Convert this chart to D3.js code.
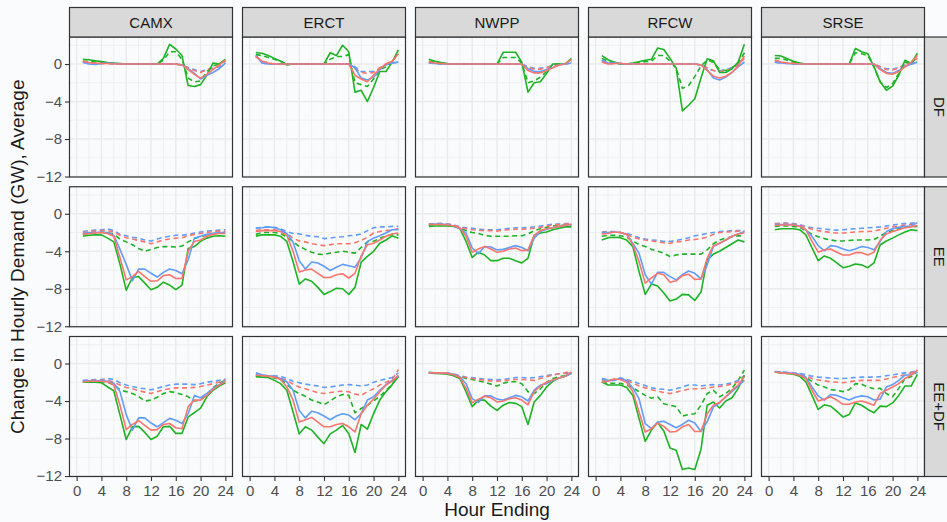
<!DOCTYPE html>
<html><head><meta charset="utf-8">
<script src="https://cdn.jsdelivr.net/npm/d3@7"></script>
<style>
html,body{margin:0;padding:0;background:#fafbfd;}
svg{display:block;font-family:"Liberation Sans",Arial,Helvetica,sans-serif;}
</style></head><body>
<svg id="chart" width="947" height="522"></svg>
<script>
// ---------------- DATA ----------------
const regions = ["CAMX", "ERCT", "NWPP", "RFCW", "SRSE"];
const scenarios = ["DF", "EE", "EE+DF"];
const hours = [1,2,3,4,5,6,7,8,9,10,11,12,13,14,15,16,17,18,19,20,21,22,23,24];
const xTicks = [0, 4, 8, 12, 16, 20, 24];
const yTicks = [0, -4, -8, -12];
// series order in every panel array: red solid, red dashed, green solid, green dashed, blue solid, blue dashed
const seriesKeys = ["redSolid", "redDashed", "greenSolid", "greenDashed", "blueSolid", "blueDashed"];

const CAMX_DF = [
  [0.3,0.15,0.1,0.05,0.05,0,0,0,0,0,0,0,0,0,0,0,-0.1,-0.6,-1.1,-1.5,-1.1,-0.6,-0.1,0.4],
  [0.3,0.15,0.1,0.05,0.05,0,0,0,0,0,0,0,0,0,0,0,-0.1,-0.4,-0.7,-0.9,-0.6,-0.4,-0.2,0.3],
  [0.5,0.45,0.35,0.25,0.15,0.1,0.05,0,0,0,0,0,0,0.6,2.1,1.6,0.9,-2.3,-2.4,-2.2,-1.2,0.1,0,0.5],
  [0.3,0.3,0.2,0.15,0.1,0.05,0,0,0,0,0,0,0,0.4,1.3,1.3,0.5,-1.5,-1.9,-1.8,-0.8,-0.2,0,0.4],
  [0.2,0,-0.05,0.05,0.1,0.05,0,0,0,0,0,0,0,0,0,0,-0.1,-0.5,-1.0,-1.6,-1.2,-0.9,-0.5,0.1],
  [0.2,0,0,0.05,0.1,0.05,0,0,0,0,0,0,0,0,0,0,-0.2,-0.4,-0.6,-0.8,-0.6,-0.5,-0.3,0.1]
];
const ERCT_DF = [
  [0.8,0.3,0.1,0,0,0,0,0,0,0,0,0,0,0,0,0,-1.2,-1.6,-1.9,-1.2,-0.5,0,0.3,1.1],
  [0.8,0.3,0.1,0,0,0,0,0,0,0,0,0,0,0,0,0,-0.5,-0.9,-1.0,-0.9,-0.4,0,0.3,1.0],
  [1.2,1.15,0.9,0.6,0.3,-0.1,0,0,0,0,0,0,1.2,0.9,2.0,1.3,-3.0,-2.8,-4.0,-2.5,-0.8,-0.8,0.2,1.5],
  [1.0,0.9,0.7,0.5,0.3,0,0,0,0,0,0,0,0.5,0.8,0.8,1.0,-2.0,-2.2,-2.4,-1.6,-0.6,-0.3,0.2,1.3],
  [0.9,0.1,0,0,0,0,0,0,0,0,0,0,0,0,0,0,-0.4,-1.5,-1.7,-1.4,-0.6,0,0.1,0.2],
  [0.9,0.1,0,0,0,0,0,0,0,0,0,0,0,0,0,0,-0.3,-0.8,-0.8,-0.8,-0.5,-0.1,0.1,0.2]
];
const NWPP_DF = [
  [0.2,0.1,0.05,0,0,0,0,0,0,0,0,0,0,0,0,0,-0.7,-0.95,-0.95,-0.7,-0.4,-0.1,0,0.5],
  [0.2,0.1,0.05,0,0,0,0,0,0,0,0,0,0,0,0,0,-0.4,-0.55,-0.55,-0.4,-0.2,0,0,0.3],
  [0.5,0.3,0.15,0.05,0,0,0,0,0,0,0,0,1.25,1.25,1.25,0.2,-3.0,-2.0,-1.9,-1.0,0,0,0,0.6],
  [0.3,0.2,0.1,0,0,0,0,0,0,0,0,0,0.7,0.7,0.7,0.1,-2.0,-1.8,-1.4,-0.8,0,0,0,0.4],
  [0.1,0.05,0,0,0,0,0,0,0,0,0,0,0,0,0,0,-0.5,-0.8,-0.8,-0.6,-0.4,-0.1,0,0.1],
  [0.1,0.05,0,0,0,0,0,0,0,0,0,0,0,0,0,0,-0.3,-0.45,-0.45,-0.35,-0.2,-0.05,0,0.05]
];
const RFCW_DF = [
  [0.25,0,0.05,0.05,0,0,0,0,0,0,0,0,0,0,0,0,-0.1,-0.7,-1.3,-1.5,-1.3,-0.9,-0.2,0.85],
  [0.25,0,0.05,0.05,0,0,0,0,0,0,0,0,0,0,0,0,-0.1,-0.4,-0.7,-0.8,-0.7,-0.5,0,0.6],
  [0.9,0.45,0.2,0,0,0.1,0.25,0.4,0.5,1.7,1.55,0.6,-0.45,-5.0,-4.4,-3.7,-1.5,0.55,0.35,-0.9,-0.9,-0.5,0.2,2.1],
  [0.6,0.3,0.15,0,0,0.05,0.15,0.25,0.3,0.9,0.9,0.3,-0.45,-2.6,-2.3,-1.35,-0.2,0.4,0.2,-0.6,-0.7,-0.4,0.1,1.2],
  [0.4,0.1,0.1,0.05,0,0,0,0,0,0,0,0,0,0,0,0,-0.1,-0.6,-1.5,-1.7,-1.4,-0.9,-0.3,0.2],
  [0.4,0.1,0.1,0.05,0,0,0,0,0,0,0,0,0,0,0,0,-0.1,-0.5,-0.7,-0.75,-0.6,-0.4,-0.1,0.2]
];
const SRSE_DF = [
  [0.4,0.2,0.1,0.05,0,0,0,0,0,0,0,0,0,0,0,0,0,-0.6,-1.0,-1.1,-0.8,-0.3,0.2,0.9],
  [0.4,0.2,0.1,0.05,0,0,0,0,0,0,0,0,0,0,0,0,0,-0.3,-0.6,-0.65,-0.4,-0.1,0.1,0.6],
  [0.9,0.85,0.55,0.3,0.1,0,0,0,0,0,0,0,0,1.65,1.3,1.1,-0.3,-1.9,-2.8,-2.35,-1.2,0.4,0.05,1.15],
  [0.6,0.6,0.4,0.2,0.05,0,0,0,0,0,0,0,0,1.2,1.1,0.9,-0.3,-1.9,-2.5,-2.1,-1.0,0.2,0,0.8],
  [0.2,0.1,0.05,0,0,0,0,0,0,0,0,0,0,0,0,0,0,-0.5,-0.9,-1.0,-0.7,-0.3,0,0.2],
  [0.2,0.1,0.05,0,0,0,0,0,0,0,0,0,0,0,0,0,0,-0.3,-0.5,-0.55,-0.35,-0.1,0,0.15]
];

const CAMX_EE = [
  [-2.2,-2.1,-2.05,-2.0,-2.1,-2.4,-4.7,-7.05,-6.7,-6.15,-6.7,-7.2,-7.15,-6.6,-6.5,-6.9,-6.9,-4.0,-2.95,-2.8,-2.4,-2.2,-2.1,-2.1],
  [-2.0,-1.9,-1.85,-1.8,-1.8,-1.95,-2.3,-2.55,-2.7,-2.85,-3.0,-3.2,-3.0,-2.8,-2.7,-2.6,-2.55,-2.35,-2.2,-2.1,-2.0,-1.9,-1.85,-1.85],
  [-2.4,-2.3,-2.25,-2.25,-2.6,-3.0,-5.4,-8.15,-6.8,-6.7,-7.4,-8.1,-7.85,-7.3,-7.6,-8.1,-7.6,-3.7,-3.5,-2.95,-2.6,-2.4,-2.35,-2.4],
  [-2.2,-2.1,-2.05,-2.0,-2.0,-2.2,-2.7,-3.0,-3.3,-3.7,-4.0,-3.8,-3.6,-3.5,-3.5,-3.55,-3.45,-3.0,-2.65,-2.45,-2.25,-2.1,-2.05,-2.0],
  [-2.1,-2.0,-2.0,-1.95,-2.0,-2.3,-3.8,-5.4,-7.15,-5.9,-5.9,-6.35,-6.75,-6.25,-5.9,-6.05,-6.4,-4.9,-2.6,-2.4,-2.2,-2.1,-2.0,-2.0],
  [-1.9,-1.8,-1.75,-1.7,-1.6,-1.8,-2.2,-2.35,-2.5,-2.6,-2.8,-2.9,-2.7,-2.5,-2.4,-2.3,-2.3,-2.2,-2.05,-1.95,-1.85,-1.8,-1.75,-1.7]
];
const ERCT_EE = [
  [-1.9,-1.8,-1.8,-1.8,-1.9,-2.3,-4.0,-6.2,-6.0,-5.9,-6.35,-6.8,-6.8,-6.5,-6.4,-6.85,-6.35,-4.5,-3.3,-3.15,-2.8,-2.4,-2.15,-2.05],
  [-1.8,-1.7,-1.7,-1.7,-1.8,-2.1,-2.6,-2.9,-3.0,-3.2,-3.3,-3.4,-3.3,-3.2,-3.2,-3.2,-3.1,-2.85,-2.5,-2.05,-1.9,-1.8,-1.7,-1.6],
  [-2.4,-2.25,-2.25,-2.25,-2.4,-2.95,-5.1,-7.5,-6.95,-7.2,-7.85,-8.6,-8.3,-7.95,-8.0,-8.6,-7.85,-5.15,-4.55,-4.0,-3.15,-2.8,-2.35,-2.6],
  [-2.2,-2.0,-2.0,-2.0,-2.1,-2.5,-2.95,-3.5,-3.8,-4.1,-4.3,-4.35,-4.2,-4.1,-4.0,-4.1,-4.2,-3.6,-3.0,-2.95,-2.6,-2.4,-2.2,-2.25],
  [-1.55,-1.5,-1.4,-1.5,-1.7,-2.1,-3.0,-5.0,-5.9,-5.15,-5.25,-5.6,-6.05,-5.7,-5.4,-5.55,-5.7,-4.7,-2.95,-2.6,-2.35,-2.05,-1.7,-1.7],
  [-1.55,-1.45,-1.4,-1.45,-1.6,-1.9,-2.1,-2.15,-2.3,-2.4,-2.45,-2.65,-2.6,-2.5,-2.45,-2.35,-2.3,-2.15,-1.8,-1.5,-1.4,-1.4,-1.35,-1.35]
];
const NWPP_EE = [
  [-1.15,-1.15,-1.15,-1.2,-1.3,-1.5,-2.4,-4.1,-3.75,-3.5,-3.75,-4.1,-4.0,-3.75,-3.65,-3.95,-3.85,-2.3,-1.8,-1.6,-1.5,-1.35,-1.25,-1.1],
  [-1.1,-1.05,-1.05,-1.1,-1.2,-1.45,-1.6,-1.7,-1.75,-1.8,-1.8,-1.85,-1.75,-1.7,-1.65,-1.65,-1.6,-1.55,-1.45,-1.3,-1.2,-1.15,-1.1,-1.05],
  [-1.35,-1.3,-1.3,-1.3,-1.35,-1.55,-2.95,-4.65,-4.1,-4.4,-5.0,-5.0,-4.75,-4.75,-5.0,-5.25,-4.75,-2.3,-2.05,-1.95,-1.7,-1.55,-1.4,-1.4],
  [-1.2,-1.15,-1.15,-1.2,-1.3,-1.5,-1.8,-2.0,-2.1,-2.3,-2.4,-2.4,-2.4,-2.4,-2.35,-2.35,-2.15,-1.8,-1.6,-1.45,-1.3,-1.25,-1.2,-1.2],
  [-1.15,-1.1,-1.1,-1.15,-1.3,-1.6,-2.05,-3.65,-4.25,-3.5,-3.55,-3.85,-3.8,-3.6,-3.4,-3.6,-3.95,-2.6,-1.9,-1.65,-1.5,-1.35,-1.25,-1.15],
  [-1.1,-1.05,-1.05,-1.1,-1.2,-1.4,-1.5,-1.55,-1.65,-1.7,-1.7,-1.7,-1.65,-1.55,-1.5,-1.5,-1.45,-1.4,-1.3,-1.2,-1.1,-1.1,-1.05,-1.05]
];
const RFCW_EE = [
  [-2.15,-2.1,-1.95,-2.0,-2.2,-3.3,-5.1,-7.4,-6.85,-6.35,-6.5,-7.3,-7.15,-6.6,-6.45,-7.0,-6.95,-4.75,-3.4,-3.15,-2.8,-2.4,-2.15,-2.05],
  [-2.0,-1.95,-1.95,-2.0,-2.2,-2.5,-2.7,-2.8,-2.9,-3.0,-3.1,-3.15,-3.0,-2.95,-2.8,-2.75,-2.65,-2.5,-2.2,-2.0,-1.95,-1.9,-1.85,-1.85],
  [-2.8,-2.55,-2.5,-2.55,-2.8,-3.5,-6.15,-8.6,-7.5,-7.7,-8.45,-9.3,-9.1,-8.6,-8.65,-9.25,-8.35,-4.9,-4.3,-4.0,-3.6,-3.2,-2.8,-3.0],
  [-2.4,-2.3,-2.3,-2.35,-2.5,-2.9,-3.3,-3.5,-3.8,-4.0,-4.2,-4.55,-4.4,-4.3,-4.3,-4.3,-4.3,-3.85,-3.2,-2.8,-2.6,-2.45,-2.35,-2.4],
  [-2.05,-2.0,-1.95,-2.0,-2.2,-3.15,-4.2,-6.5,-7.5,-6.25,-6.25,-6.7,-7.05,-6.5,-6.1,-6.35,-6.95,-5.45,-3.5,-3.15,-2.8,-2.4,-2.15,-1.9],
  [-1.95,-1.9,-1.9,-2.0,-2.1,-2.3,-2.55,-2.7,-2.8,-2.85,-2.95,-2.95,-2.85,-2.7,-2.55,-2.35,-2.25,-2.1,-2.0,-1.9,-1.85,-1.8,-1.8,-1.8]
];
const SRSE_EE = [
  [-1.25,-1.2,-1.2,-1.2,-1.35,-1.7,-2.95,-4.1,-3.85,-3.75,-4.1,-4.4,-4.4,-4.15,-4.15,-4.4,-4.1,-2.8,-2.15,-1.9,-1.7,-1.5,-1.4,-1.25],
  [-1.1,-1.05,-1.05,-1.1,-1.2,-1.45,-1.65,-1.8,-1.9,-2.0,-2.05,-2.05,-2.0,-1.95,-1.9,-1.9,-1.85,-1.7,-1.55,-1.4,-1.3,-1.2,-1.15,-1.1],
  [-1.7,-1.6,-1.6,-1.6,-1.7,-2.25,-3.65,-5.0,-4.5,-4.75,-5.25,-5.75,-5.6,-5.35,-5.45,-5.75,-5.25,-3.3,-2.9,-2.6,-2.25,-1.95,-1.7,-1.8],
  [-1.35,-1.3,-1.3,-1.35,-1.45,-1.8,-2.2,-2.45,-2.65,-2.8,-2.9,-2.9,-2.85,-2.8,-2.8,-2.8,-2.75,-2.4,-2.0,-1.8,-1.6,-1.45,-1.4,-1.35],
  [-1.2,-1.15,-1.15,-1.15,-1.3,-1.7,-2.4,-3.4,-3.95,-3.4,-3.5,-3.75,-3.95,-3.75,-3.5,-3.6,-3.85,-2.95,-1.9,-1.6,-1.45,-1.35,-1.3,-0.95],
  [-1.05,-1.0,-1.0,-1.05,-1.15,-1.35,-1.5,-1.55,-1.65,-1.7,-1.75,-1.7,-1.65,-1.6,-1.55,-1.5,-1.45,-1.4,-1.3,-1.2,-1.1,-1.05,-1.0,-0.95]
];

const CAMX_EEDF = [
  [-1.95,-1.9,-1.9,-1.9,-1.95,-2.3,-4.45,-7.05,-6.5,-6.1,-6.6,-7.1,-7.05,-6.5,-6.4,-6.85,-6.95,-4.6,-3.9,-3.9,-3.4,-2.75,-2.3,-1.9],
  [-1.85,-1.8,-1.8,-1.8,-1.8,-2.0,-2.3,-2.55,-2.7,-2.9,-3.05,-3.2,-3.0,-2.8,-2.7,-2.6,-2.6,-2.6,-2.55,-2.45,-2.3,-2.15,-2.0,-1.7],
  [-1.95,-2.0,-2.0,-2.05,-2.5,-2.9,-5.5,-8.1,-6.75,-6.7,-7.35,-8.1,-7.75,-6.75,-6.7,-7.45,-7.45,-5.7,-5.25,-4.75,-3.55,-2.85,-2.4,-2.05],
  [-1.95,-1.95,-1.9,-1.95,-2.0,-2.3,-2.8,-3.0,-3.2,-3.5,-4.0,-3.9,-3.6,-3.2,-3.0,-3.1,-3.3,-3.55,-4.0,-3.9,-3.3,-2.6,-2.1,-1.8],
  [-1.85,-1.85,-1.85,-1.85,-1.9,-2.1,-3.0,-5.45,-7.1,-5.8,-5.8,-6.35,-6.75,-6.3,-5.85,-6.05,-6.4,-5.35,-3.4,-3.65,-3.2,-2.65,-2.25,-1.8],
  [-1.8,-1.75,-1.7,-1.7,-1.6,-1.7,-2.05,-2.3,-2.45,-2.6,-2.7,-2.8,-2.65,-2.45,-2.3,-2.2,-2.2,-2.2,-2.25,-2.15,-2.0,-1.9,-1.8,-1.65]
];
const ERCT_EEDF = [
  [-1.25,-1.3,-1.35,-1.45,-1.7,-2.5,-3.9,-6.25,-6.0,-5.75,-6.25,-6.75,-6.75,-6.5,-6.4,-6.75,-7.3,-5.35,-4.45,-3.8,-3.0,-2.3,-1.9,-1.25],
  [-1.3,-1.3,-1.35,-1.45,-1.55,-1.8,-2.2,-2.5,-2.7,-2.9,-3.1,-3.2,-3.1,-3.0,-2.95,-3.0,-3.25,-3.4,-3.0,-2.7,-2.3,-2.0,-1.7,-0.65],
  [-1.4,-1.45,-1.5,-1.8,-2.15,-2.85,-5.15,-7.5,-6.75,-7.1,-7.85,-8.55,-7.5,-7.1,-6.6,-7.5,-9.5,-6.5,-7.0,-5.35,-3.9,-3.0,-2.25,-1.4],
  [-1.35,-1.4,-1.45,-1.55,-1.7,-2.2,-2.85,-3.2,-3.5,-3.9,-4.1,-4.4,-4.0,-3.55,-3.3,-3.4,-5.25,-4.8,-4.45,-4.0,-3.5,-2.9,-2.2,-1.3],
  [-1.0,-1.2,-1.3,-1.35,-1.6,-1.95,-2.85,-5.0,-5.8,-5.1,-5.25,-5.6,-6.0,-5.6,-5.35,-5.5,-6.0,-5.35,-3.9,-3.55,-2.85,-2.25,-1.8,-1.35],
  [-1.2,-1.3,-1.3,-1.3,-1.35,-1.6,-1.9,-2.05,-2.2,-2.3,-2.4,-2.55,-2.5,-2.4,-2.3,-2.25,-2.3,-2.4,-2.3,-2.0,-1.8,-1.65,-1.5,-1.0]
];
const NWPP_EEDF = [
  [-1.0,-1.0,-1.0,-1.05,-1.2,-1.5,-2.65,-4.2,-3.8,-3.5,-3.65,-4.1,-4.0,-3.75,-3.65,-3.9,-4.4,-3.0,-2.4,-2.0,-1.75,-1.55,-1.35,-0.9],
  [-1.0,-1.0,-1.0,-1.05,-1.15,-1.35,-1.5,-1.6,-1.7,-1.8,-1.85,-1.9,-1.85,-1.75,-1.7,-1.7,-1.75,-1.8,-1.6,-1.4,-1.25,-1.1,-1.0,-0.8],
  [-1.0,-1.05,-1.1,-1.15,-1.3,-1.6,-3.0,-4.6,-3.9,-3.9,-4.55,-5.0,-4.45,-4.15,-4.25,-4.6,-6.5,-4.1,-3.4,-2.5,-1.9,-1.55,-1.35,-1.05],
  [-0.95,-1.0,-1.0,-1.05,-1.15,-1.4,-1.6,-1.7,-1.85,-2.0,-2.2,-2.4,-2.1,-1.95,-1.95,-2.15,-3.0,-3.2,-2.7,-2.0,-1.6,-1.4,-1.3,-1.0],
  [-1.0,-1.0,-1.0,-1.05,-1.15,-1.4,-2.15,-3.75,-4.15,-3.45,-3.45,-3.8,-3.9,-3.65,-3.4,-3.55,-4.0,-2.85,-2.3,-2.15,-1.8,-1.55,-1.35,-1.05],
  [-1.0,-1.0,-1.0,-1.05,-1.1,-1.3,-1.45,-1.5,-1.6,-1.65,-1.7,-1.75,-1.7,-1.6,-1.5,-1.5,-1.55,-1.5,-1.4,-1.3,-1.2,-1.1,-1.05,-1.0]
];
const RFCW_EEDF = [
  [-2.0,-1.9,-1.65,-1.7,-2.0,-3.0,-5.15,-7.3,-6.95,-6.35,-6.7,-7.3,-7.25,-6.75,-6.5,-7.25,-7.25,-5.35,-4.45,-4.15,-3.55,-2.85,-2.3,-1.4],
  [-1.8,-1.75,-1.7,-1.65,-1.8,-2.1,-2.4,-2.6,-2.8,-2.95,-3.1,-3.2,-3.05,-2.9,-2.75,-2.7,-2.7,-2.6,-2.5,-2.45,-2.35,-2.2,-1.95,-1.3],
  [-1.95,-2.3,-2.3,-2.3,-2.55,-3.4,-5.85,-8.3,-7.1,-6.3,-7.2,-9.0,-9.25,-11.3,-11.15,-11.3,-9.15,-4.45,-4.1,-4.75,-4.0,-3.65,-2.65,-1.25],
  [-2.0,-2.1,-2.1,-2.1,-2.3,-2.6,-3.0,-3.4,-3.7,-3.55,-4.3,-4.45,-4.6,-5.6,-5.45,-5.35,-4.45,-3.2,-2.85,-3.55,-3.2,-2.65,-1.8,-0.7],
  [-1.65,-1.8,-1.8,-1.55,-1.8,-2.6,-3.75,-6.4,-6.95,-6.25,-6.15,-6.5,-6.85,-6.5,-6.05,-6.35,-7.25,-6.2,-4.65,-4.2,-3.55,-3.0,-2.4,-1.8],
  [-1.6,-1.75,-1.7,-1.55,-1.7,-1.9,-2.15,-2.35,-2.6,-2.7,-2.75,-2.85,-2.7,-2.5,-2.3,-2.3,-2.4,-2.3,-2.25,-2.3,-2.2,-2.05,-1.8,-1.3]
];
const SRSE_EEDF = [
  [-0.9,-1.0,-1.05,-1.1,-1.25,-1.6,-2.85,-4.0,-3.8,-3.55,-3.9,-4.35,-4.35,-4.1,-4.0,-4.2,-4.45,-3.2,-2.85,-2.5,-2.15,-1.6,-1.25,-0.7],
  [-0.9,-0.95,-1.0,-1.05,-1.15,-1.35,-1.6,-1.75,-1.85,-1.95,-2.0,-2.05,-1.95,-1.85,-1.8,-1.8,-1.8,-1.8,-1.65,-1.5,-1.35,-1.2,-1.0,-0.7],
  [-0.9,-1.0,-1.05,-1.15,-1.35,-1.95,-3.4,-4.9,-4.4,-4.55,-5.1,-5.7,-5.45,-4.2,-4.45,-4.9,-5.25,-4.55,-4.6,-4.2,-3.4,-2.4,-2.4,-1.15],
  [-0.9,-0.95,-1.0,-1.1,-1.25,-1.5,-1.9,-2.3,-2.5,-2.8,-2.85,-3.0,-2.8,-2.15,-2.2,-2.5,-2.7,-2.65,-3.2,-3.55,-2.65,-1.6,-1.4,-0.9],
  [-0.9,-0.95,-1.0,-1.05,-1.15,-1.45,-2.5,-3.45,-3.9,-3.3,-3.4,-3.65,-3.9,-3.6,-3.45,-3.55,-3.9,-3.8,-2.5,-2.25,-1.8,-1.25,-1.2,-0.9],
  [-0.85,-0.9,-0.95,-1.0,-1.05,-1.2,-1.35,-1.45,-1.5,-1.55,-1.6,-1.6,-1.55,-1.5,-1.45,-1.45,-1.45,-1.4,-1.3,-1.2,-1.1,-1.0,-0.9,-0.8]
];

const panelData = {
  "DF":    [CAMX_DF, ERCT_DF, NWPP_DF, RFCW_DF, SRSE_DF],
  "EE":    [CAMX_EE, ERCT_EE, NWPP_EE, RFCW_EE, SRSE_EE],
  "EE+DF": [CAMX_EEDF, ERCT_EEDF, NWPP_EEDF, RFCW_EEDF, SRSE_EEDF]
};

// ---------------- STYLE / LAYOUT ----------------
const seriesStyle = {
  redSolid:    {color: "#F8766D", dash: null},
  redDashed:   {color: "#F8766D", dash: "5,3.5"},
  greenSolid:  {color: "#1DB324", dash: null},
  greenDashed: {color: "#1DB324", dash: "5,3.5"},
  blueSolid:   {color: "#619CFF", dash: null},
  blueDashed:  {color: "#619CFF", dash: "5,3.5"}
};
const drawOrder = [3, 5, 1, 2, 4, 0];

const panelW = 163, panelH = 140;
const colStep = 173, rowStep = 149.75;
const left0 = 69.5, top0 = 37;
const stripH = 29.5;

const svg = d3.select("#chart");
svg.append("rect").attr("width", 947).attr("height", 522).attr("fill", "#fafbfd");

const x = d3.scaleLinear().domain([-1.15, 25.15]).range([0, panelW]);
const y = d3.scaleLinear().domain([-12.05, 2.88]).range([panelH, 0]);
const xMinor = [2, 6, 10, 14, 18, 22];
const yMinor = [2, -2, -6, -10];

const line = d3.line().x((d, i) => x(hours[i])).y(d => y(d));

scenarios.forEach((sc, r) => {
  regions.forEach((rg, c) => {
    const g = svg.append("g")
      .attr("transform", `translate(${left0 + c * colStep},${top0 + r * rowStep})`);
    g.append("rect").attr("width", panelW).attr("height", panelH).attr("fill", "#fafbfd");
    g.selectAll(".vmin").data(xMinor).enter().append("line")
      .attr("x1", d => x(d)).attr("x2", d => x(d)).attr("y1", 0).attr("y2", panelH)
      .attr("stroke", "#ebebeb").attr("stroke-width", 0.7);
    g.selectAll(".hmin").data(yMinor).enter().append("line")
      .attr("y1", d => y(d)).attr("y2", d => y(d)).attr("x1", 0).attr("x2", panelW)
      .attr("stroke", "#ebebeb").attr("stroke-width", 0.7);
    g.selectAll(".vmaj").data(xTicks).enter().append("line")
      .attr("x1", d => x(d)).attr("x2", d => x(d)).attr("y1", 0).attr("y2", panelH)
      .attr("stroke", "#ebebeb").attr("stroke-width", 1.4);
    g.selectAll(".hmaj").data(yTicks).enter().append("line")
      .attr("y1", d => y(d)).attr("y2", d => y(d)).attr("x1", 0).attr("x2", panelW)
      .attr("stroke", "#ebebeb").attr("stroke-width", 1.4);

    const series = panelData[sc][c];
    drawOrder.forEach(k => {
      const st = seriesStyle[seriesKeys[k]];
      g.append("path").datum(series[k])
        .attr("d", line)
        .attr("fill", "none")
        .attr("stroke", st.color)
        .attr("stroke-width", 1.6)
        .attr("stroke-linejoin", "round")
        .attr("stroke-dasharray", st.dash);
    });

    g.append("rect").attr("width", panelW).attr("height", panelH)
      .attr("fill", "none").attr("stroke", "#333333").attr("stroke-width", 1.2);

    if (c === 0) {
      const ax = g.append("g").call(d3.axisLeft(y).tickValues(yTicks).tickSize(4.5).tickPadding(3));
      ax.select(".domain").remove();
      ax.selectAll("line").attr("stroke", "#333333").attr("stroke-width", 1.1);
      ax.selectAll("text").attr("fill", "#4d4d4d").attr("font-size", 15)
        .attr("font-family", "Liberation Sans, Arial, sans-serif");
    }
    if (r === scenarios.length - 1) {
      const ax = g.append("g").attr("transform", `translate(0,${panelH})`)
        .call(d3.axisBottom(x).tickValues(xTicks).tickSize(4.5).tickPadding(4.5));
      ax.select(".domain").remove();
      ax.selectAll("line").attr("stroke", "#333333").attr("stroke-width", 1.1);
      ax.selectAll("text").attr("fill", "#4d4d4d").attr("font-size", 15)
        .attr("font-family", "Liberation Sans, Arial, sans-serif");
    }
  });
});

regions.forEach((rg, c) => {
  const sx = left0 + c * colStep;
  svg.append("rect").attr("x", sx).attr("y", top0 - stripH).attr("width", panelW).attr("height", stripH)
    .attr("fill", "#d9d9d9").attr("stroke", "#333333").attr("stroke-width", 1.2);
  svg.append("text").attr("x", sx + panelW / 2).attr("y", top0 - stripH / 2)
    .attr("text-anchor", "middle").attr("dominant-baseline", "central")
    .attr("font-size", 15).attr("fill", "#1a1a1a").text(rg);
});
scenarios.forEach((sc, r) => {
  const sy = top0 + r * rowStep;
  const sx = left0 + 4 * colStep + panelW;
  svg.append("rect").attr("x", sx).attr("y", sy).attr("width", stripH).attr("height", panelH)
    .attr("fill", "#d9d9d9").attr("stroke", "#333333").attr("stroke-width", 1.2);
  svg.append("text").attr("transform", `translate(${sx + stripH / 2},${sy + panelH / 2}) rotate(90)`)
    .attr("text-anchor", "middle").attr("dominant-baseline", "central")
    .attr("font-size", 15).attr("fill", "#1a1a1a").text(sc);
});

const plotLeft = left0, plotRight = left0 + 4 * colStep + panelW;
svg.append("text").attr("x", (plotLeft + plotRight) / 2).attr("y", 516)
  .attr("text-anchor", "middle").attr("font-size", 19).attr("fill", "#1a1a1a").text("Hour Ending");
const plotTop = top0, plotBottom = top0 + 2 * rowStep + panelH;
svg.append("text").attr("transform", `translate(24,${(plotTop + plotBottom) / 2}) rotate(-90)`)
  .attr("text-anchor", "middle").attr("font-size", 19).attr("fill", "#1a1a1a")
  .text("Change in Hourly Demand (GW), Average");
</script>
</body></html>
